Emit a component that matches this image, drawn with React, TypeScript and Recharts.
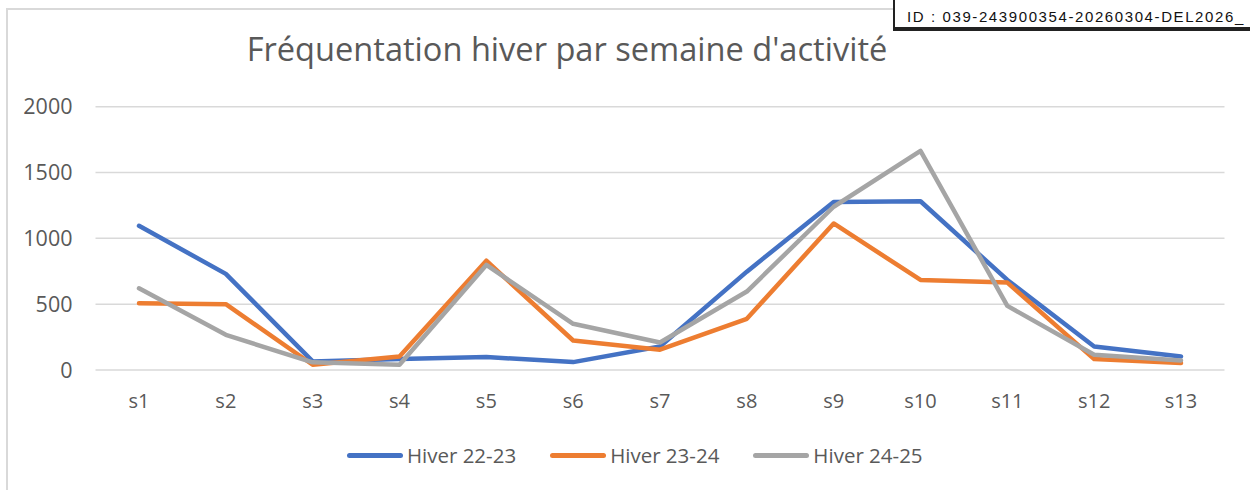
import { CartesianGrid, Legend, Line, LineChart, XAxis, YAxis } from "recharts";

const weeks = ["s1", "s2", "s3", "s4", "s5", "s6", "s7", "s8", "s9", "s10", "s11", "s12", "s13"];
const hiver2223 = [1095, 730, 65, 83, 98, 60, 179, 747, 1277, 1282, 684, 179, 103];
const hiver2324 = [507, 500, 40, 103, 830, 224, 154, 389, 1113, 684, 664, 83, 53];
const hiver2425 = [621, 267, 58, 40, 798, 351, 209, 596, 1240, 1664, 487, 116, 73];
const yTicks = [0, 500, 1000, 1500, 2000];

const series = [
  { key: "h2223", name: "Hiver 22-23", color: "#4472C4" },
  { key: "h2324", name: "Hiver 23-24", color: "#ED7D31" },
  { key: "h2425", name: "Hiver 24-25", color: "#A5A5A5" },
];

const data = weeks.map((week, i) => ({
  week,
  h2223: hiver2223[i],
  h2324: hiver2324[i],
  h2425: hiver2425[i],
}));

const font = "'Open Sans', 'Noto Sans', sans-serif";

function LegendRow() {
  return (
    <div style={{ paddingTop: 44, display: "flex", justifyContent: "center", gap: 34, paddingLeft: 45 }}>
      {series.map((s) => (
        <div key={s.key} style={{ display: "flex", alignItems: "center", height: 22 }}>
          <span
            style={{ width: 56, height: 5, borderRadius: 3, background: s.color, display: "inline-block", flexShrink: 0 }}
          />
          <span style={{ fontFamily: font, fontSize: 20.5, color: "#595959", marginLeft: 4 }}>{s.name}</span>
        </div>
      ))}
    </div>
  );
}

export default function App() {
  return (
    <div style={{ position: "absolute", left: 0, top: 0, width: 1250, height: 490, overflow: "hidden", background: "#fff" }}>
      <div style={{ position: "absolute", left: 6, top: 8, width: 1300, height: 600, border: "2px solid #d9d9d9" }} />
      <div
        style={{
          position: "absolute",
          left: 0,
          width: 1134,
          top: 26,
          textAlign: "center",
          fontFamily: font,
          fontSize: 32.6,
          fontWeight: 400,
          color: "#595959",
          lineHeight: "46px",
        }}
      >
        Fréquentation hiver par semaine d'activité
      </div>
      <div style={{ position: "absolute", left: 0, top: 0 }}>
        <LineChart width={1250} height={490} data={data} margin={{ top: 106.7, right: 25.5, bottom: 10, left: 0 }}>
          <CartesianGrid stroke="#d9d9d9" strokeWidth={1.5} vertical={false} />
          <XAxis
            dataKey="week"
            axisLine={false}
            tickLine={false}
            tickSize={0}
            tickMargin={24}
            height={30}
            padding={{ left: 43.5, right: 43.5 }}
            tick={{ fill: "#595959", fontSize: 20, fontFamily: font }}
          />
          <YAxis
            domain={[0, 2000]}
            ticks={yTicks}
            axisLine={false}
            tickLine={false}
            tickSize={0}
            tickMargin={23}
            width={95.5}
            tick={{ fill: "#595959", fontSize: 21.5, fontFamily: font }}
          />
          <Legend verticalAlign="bottom" height={80} content={<LegendRow />} />
          {series.map((s) => (
            <Line
              key={s.key}
              dataKey={s.key}
              name={s.name}
              stroke={s.color}
              strokeWidth={4.5}
              strokeLinecap="round"
              strokeLinejoin="round"
              dot={false}
              activeDot={false}
              isAnimationActive={false}
            />
          ))}
        </LineChart>
      </div>
      <div
        style={{
          position: "absolute",
          left: 893,
          top: -2,
          width: 400,
          height: 33,
          border: "2px solid #222",
          borderBottomWidth: 4,
          background: "#fff",
          fontFamily: "'Liberation Sans', Arial, sans-serif",
          fontSize: 15,
          letterSpacing: 1.6,
          color: "#111",
          paddingLeft: 12,
          lineHeight: "34px",
          boxSizing: "border-box",
          whiteSpace: "nowrap",
        }}
      >
        ID : 039-243900354-20260304-DEL2026_
      </div>
    </div>
  );
}
